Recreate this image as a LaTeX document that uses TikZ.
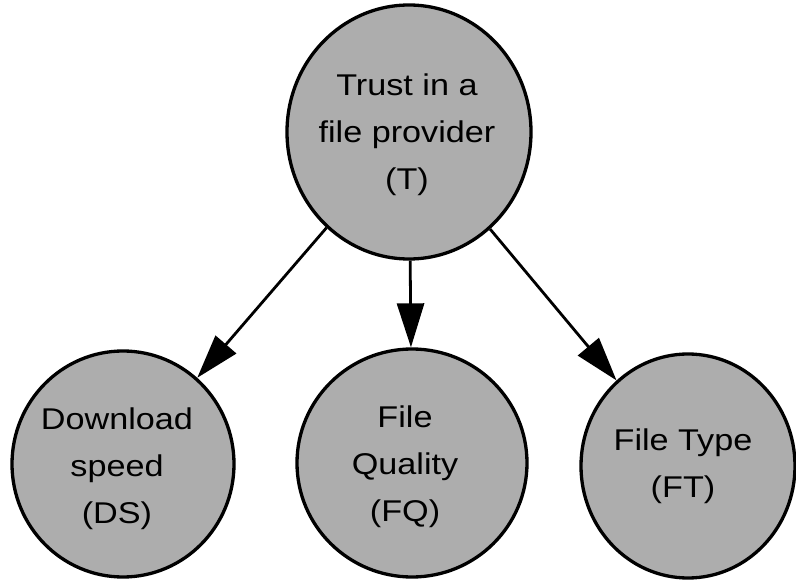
\documentclass[tikz,border=0pt]{standalone}
\usepackage{fontspec}
\setmainfont[FakeStretch=1.14]{Liberation Sans}
\usetikzlibrary{shapes.geometric,arrows.meta}

\tikzset{
  varnode/.style={ellipse, draw=black, line width=3.3pt, fill=black!32,
    inner sep=0pt},
  varlabel/.style={align=center, inner sep=0pt,
    font=\fontsize{30}{47}\selectfont},
  depends/.style={line width=2.8pt,
    -{Triangle[length=44pt,width=27pt]}}
}

\begin{document}
\begin{tikzpicture}[x=1pt,y=-1pt]
  \useasboundingbox (0,0) rectangle (796,580);

  % variables of the network
  \node[varnode, minimum width=244pt, minimum height=254pt] (T)  at (409,132) {};
  \node[varnode, minimum width=222pt, minimum height=226pt] (DS) at (123,464) {};
  \node[varnode, minimum width=230pt, minimum height=228pt] (FQ) at (412,463) {};
  \node[varnode, minimum width=214pt, minimum height=224pt] (FT) at (688,466) {};

  % their names
  \node[varlabel] (Tl)  at (407,135) {Trust in a\\file provider\\(T)};
  \node[varlabel] (DSl) at (117,469) {Download\\speed\\(DS)};
  \node[varlabel] (FQl) at (405,467) {File\\Quality\\(FQ)};
  \node[varlabel] (FTl) at (683,466) {File Type\\(FT)};

  % dependencies
  \draw[depends] (T) -- (DS);
  \draw[depends] (T) -- (FQ);
  \draw[depends] (T) -- (FT);
\end{tikzpicture}
\end{document}
